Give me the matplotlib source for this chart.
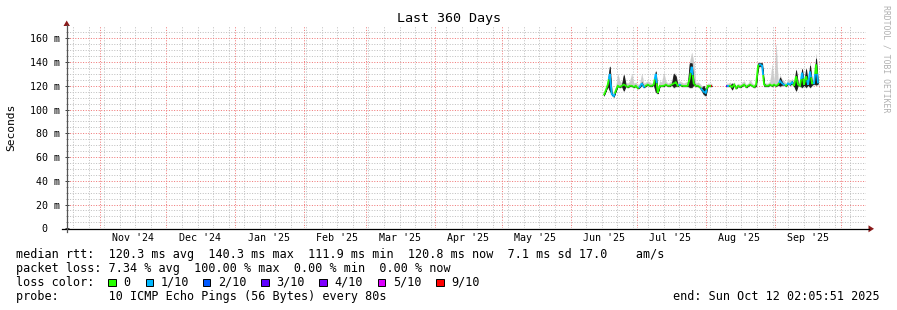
import datetime as dt
import numpy as np
import matplotlib
matplotlib.use("Agg")
import matplotlib.pyplot as plt
import matplotlib.dates as mdates
import matplotlib.transforms as mtransforms
from matplotlib.patches import Polygon, Rectangle
from matplotlib.lines import Line2D
from matplotlib.collections import LineCollection

W, H = 897, 310
MONO = "DejaVu Sans Mono"

# ---------------- data ----------------
end_time = dt.datetime(2025, 10, 12, 2, 5, 51)
span_days = 360
sample_days = 0.9

seg1_start = dt.datetime(2025, 6, 15, 23, 30)
seg1_median = [112,116,121,130,113,111,116,120,119,120, 121,120,119,120,120,119,120,118,119,122,
               119,120,121,120,120,121,130,114,120,120, 120,121,120,120,121,122,123,120,121,120,
               120,120,120,126,136,122,120,120,119,117, 115,114,120,120,120]
seg1_loss = [0,0,0,1,1,1,0,0,0,0, 0,0,0,0,0,0,0,0,1,1,
             1,0,0,0,0,0,1,0,0,0, 0,0,0,0,0,0,0,0,1,0,
             0,0,0,0,1,0,0,0,0,1, 1,1,0,0,9]
seg1_dark_lo = [112,116,120,116,113,111,116,120,119,120, 116,120,119,120,120,119,120,118,119,121,
                119,120,121,120,120,121,115,114,120,120, 120,121,120,120,121,119,120,120,121,120,
                120,120,120,119,119,121,120,120,119,116, 113,112,120,120,120]
seg1_dark_hi = [112,116,122,136,113,111,116,120,119,120, 129,120,119,120,120,119,120,118,119,123,
                119,120,121,120,120,121,132,114,120,120, 120,121,120,120,121,130,128,120,121,120,
                120,120,120,139,139,123,120,120,119,118, 120,116,120,120,120]
seg1_smoke_lo = [111,115,119,115,112,110,115,119,118,119, 115,119,118,119,119,118,119,117,118,120,
                 118,119,120,119,119,120,114,113,119,119, 119,120,119,119,120,118,119,119,120,119,
                 119,119,119,118,118,120,119,119,118,115, 112,111,119,119,119]
seg1_smoke_hi = [113,118,125,137,116,113,119,130,124,122, 130,123,122,124,130,122,123,121,122,130,
                 122,123,124,123,122,124,133,117,124,123, 131,124,122,123,124,131,130,123,124,123,
                 122,123,124,140,148,140,122,123,122,120, 120,117,122,122,122]

seg2_start = dt.datetime(2025, 8, 10, 2, 0)
seg2_median = [120,120,120,119,121,118,120,119,120,121, 119,120,121,120,119,121,137,138,137,121,
               120,120,121,120,121,120,121,124,122,121, 120,122,121,123,120,128,121,120,131,121,
               128,121,132,122,122,138,122]
seg2_loss = [3,1,0,0,0,0,0,0,0,0, 0,0,0,0,0,0,0,1,1,0,
             0,0,0,0,0,0,0,1,1,1, 0,1,1,1,0,0,0,0,1,0,
             0,1,1,0,1,0,1]
seg2_dark_lo = [120,120,120,117,121,118,120,119,120,121, 119,120,121,120,119,120,136,137,136,120,
                120,120,121,120,121,120,121,120,121,121, 120,122,121,122,120,116,121,120,119,121,
                119,121,119,121,122,121,122]
seg2_dark_hi = [120,120,120,122,121,118,120,119,120,121, 119,120,121,120,119,122,139,139,139,122,
                120,120,121,120,121,120,121,127,123,121, 120,122,121,124,120,133,121,120,134,121,
                134,121,137,122,122,143,122]
seg2_smoke_lo = [119,119,119,116,120,117,119,118,119,120, 118,119,120,119,118,119,135,136,135,119,
                 119,119,120,119,120,119,120,119,120,120, 119,121,120,121,119,115,120,119,118,120,
                 118,120,118,120,121,120,121]
seg2_smoke_hi = [122,122,123,121,123,120,122,121,123,124, 121,122,125,122,121,123,140,140,140,123,
                 122,122,124,138,123,155,123,129,125,124, 122,126,124,126,122,134,123,122,135,124,
                 135,123,140,125,124,147,124]

loss_keys = [0, 1, 2, 3, 4, 5, 9]
loss_labels = ["0", "1/10", "2/10", "3/10", "4/10", "5/10", "9/10"]
loss_colors = ["#26ff00", "#00b8ff", "#0059ff", "#5e00ff", "#7e00ff", "#dd00ff", "#ff0000"]

y_ticks = [0, 20, 40, 60, 80, 100, 120, 140, 160]

stats_line1 = "median rtt:  120.3 ms avg  140.3 ms max  111.9 ms min  120.8 ms now  7.1 ms sd 17.0    am/s"
stats_line2 = "packet loss: 7.34 % avg  100.00 % max  0.00 % min  0.00 % now"
stats_line3 = "loss color:"
stats_line4 = "probe:       10 ICMP Echo Pings (56 Bytes) every 80s"
end_label = "end: Sun Oct 12 02:05:51 2025"

# ---------------- figure ----------------
fig = plt.figure(figsize=(W / 100, H / 100), dpi=100)
fig.patch.set_facecolor("white")
px = mtransforms.Affine2D().scale(1.0 / W, -1.0 / H).translate(0, 1) + fig.transFigure

ax_l, ax_r, ax_t, ax_b = 66.7, 866.0, 26.4, 228.3
ax = fig.add_axes([ax_l / W, (H - ax_b) / H, (ax_r - ax_l) / W, (ax_b - ax_t) / H])
ax.set_facecolor("white")

start_time = end_time - dt.timedelta(days=span_days)
ax.set_xlim(mdates.date2num(start_time), mdates.date2num(end_time))
ax.set_ylim(0, 170)

# grid
month_starts = []
m = dt.datetime(start_time.year, start_time.month, 1)
while m <= end_time:
    if m >= start_time:
        month_starts.append(m)
    m = dt.datetime(m.year + (m.month // 12), m.month % 12 + 1, 1)
sundays = []
d = dt.datetime(start_time.year, start_time.month, start_time.day) + dt.timedelta(days=1)
while d <= end_time:
    if d.weekday() == 6:
        sundays.append(d)
    d += dt.timedelta(days=1)
ax.set_xticks(mdates.date2num(month_starts))
ax.set_xticks(mdates.date2num(sundays), minor=True)
ax.set_yticks(y_ticks)
ax.set_yticks(np.arange(0, 170, 5), minor=True)
ax.set_xticklabels([])
ax.set_yticklabels([("%d m" % v) if v else "0  " for v in y_ticks], family=MONO, fontsize=7.2)
ax.tick_params(axis="x", which="both", length=0)
ax.tick_params(axis="y", which="major", direction="inout", length=2.9, width=0.72, color="#444444", pad=3.2)
ax.tick_params(axis="y", which="minor", direction="inout", length=1.44, width=0.72, color="#999999")
ax.grid(True, which="minor", color="#c0c0c0", linestyle=(0, (1, 1.6)), linewidth=0.72)
ax.grid(True, which="major", color="#f07878", linestyle=(0, (1, 1.6)), linewidth=0.72)
ax.set_axisbelow(True)
for s in ax.spines.values():
    s.set_visible(False)

# month labels, centred mid-month
blend = mtransforms.blended_transform_factory(ax.transData, ax.transAxes)
for ms in month_starts:
    c = ms + dt.timedelta(days=15)
    if start_time < c < end_time:
        ax.text(mdates.date2num(c), -(237.7 - ax_b) / (ax_b - ax_t), ms.strftime("%b '%y"),
                transform=blend, ha="center", va="center", family=MONO, fontsize=7.2)

# data
def draw_segment(start, med, loss, dlo, dhi, slo, shi):
    t = mdates.date2num(start) + np.arange(len(med)) * sample_days
    ax.fill_between(t, slo, shi, facecolor="#cccccc", edgecolor="#cccccc", linewidth=0.2)
    ax.fill_between(t, dlo, dhi, facecolor="#1c1c1c", edgecolor="#1c1c1c", linewidth=0.6)
    med = np.asarray(med, float)
    segs, cols = [], []
    for i in range(len(t)):
        pts = []
        if i > 0:
            pts.append(((t[i - 1] + t[i]) / 2, (med[i - 1] + med[i]) / 2))
        pts.append((t[i], med[i]))
        if i < len(t) - 1:
            pts.append(((t[i + 1] + t[i]) / 2, (med[i + 1] + med[i]) / 2))
        segs.append(pts)
        cols.append(loss_colors[loss_keys.index(loss[i])])
    ax.add_collection(LineCollection(segs, colors=cols, linewidths=1.3, capstyle="butt", joinstyle="miter"))

draw_segment(seg1_start, seg1_median, seg1_loss, seg1_dark_lo, seg1_dark_hi, seg1_smoke_lo, seg1_smoke_hi)
draw_segment(seg2_start, seg2_median, seg2_loss, seg2_dark_lo, seg2_dark_hi, seg2_smoke_lo, seg2_smoke_hi)

# axis lines and arrows
fig.add_artist(Line2D([62, 869], [228.8, 228.8], transform=px, color="black", linewidth=0.9))
fig.add_artist(Line2D([66.7, 66.7], [232, 25], transform=px, color="#555555", linewidth=0.9))
fig.add_artist(Polygon([(868.5, 225.3), (874, 228.8), (868.5, 232.3)], closed=True, transform=px,
                       facecolor="#8b1a1a", edgecolor="none"))
fig.add_artist(Polygon([(63.5, 26), (66.7, 20.5), (69.9, 26)], closed=True, transform=px,
                       facecolor="#8b1a1a", edgecolor="none"))

# texts
fig.text(448.5 / W, 1 - 18.5 / H, "Last 360 Days", ha="center", va="center", family=MONO, fontsize=9.6)
fig.text(11 / W, 1 - 127 / H, "Seconds", rotation=90, ha="center", va="center", family=MONO, fontsize=8.1)
fig.text(886 / W, 1 - 59 / H, "RRDTOOL / TOBI OETIKER", rotation=270, ha="center", va="center",
         family=MONO, fontsize=5.9, color="#b0b0b0")

for y, s in [(254.3, stats_line1), (268.3, stats_line2), (282.3, stats_line3), (296.7, stats_line4)]:
    fig.text(16 / W, 1 - y / H, s, ha="left", va="center", family=MONO, fontsize=8.5)
fig.text(880 / W, 1 - 296.7 / H, end_label, ha="right", va="center", family=MONO, fontsize=8.5)

box_x = [108.3, 145.7, 202.7, 261.0, 319.3, 377.7, 436.0]
for bx, lab, col in zip(box_x, loss_labels, loss_colors):
    fig.add_artist(Rectangle((bx, 278.5), 7.5, 7.5, transform=px, facecolor=col, edgecolor="black", linewidth=0.7))
    fig.text((bx + 15) / W, 1 - 282.3 / H, lab, ha="left", va="center", family=MONO, fontsize=8.5)

fig.savefig("out.png", dpi=100, facecolor="white")
